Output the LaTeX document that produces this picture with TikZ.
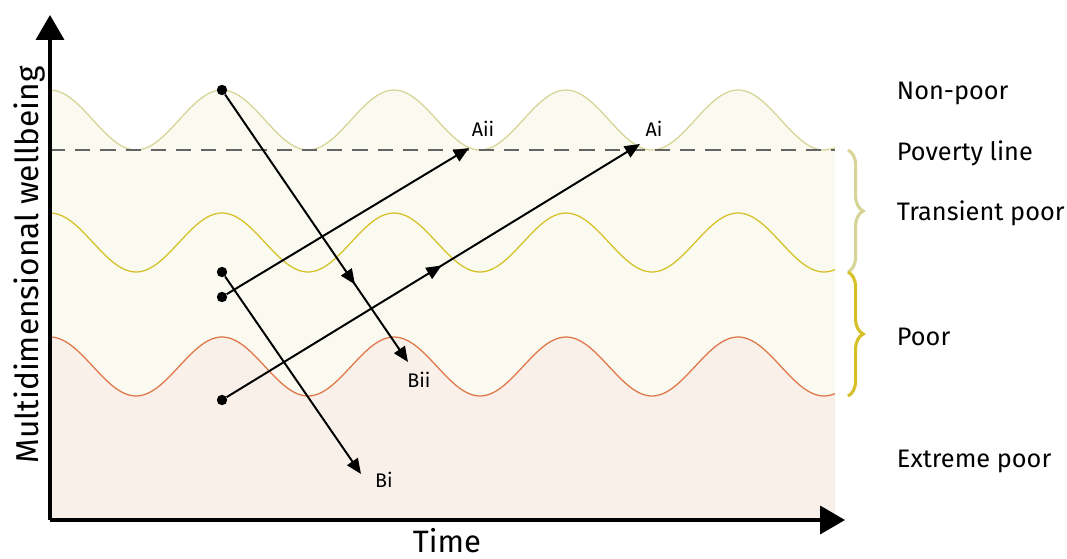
\documentclass[tikz,border=0pt]{standalone}
\usepackage{fontspec}
\setmainfont{Fira Sans}
\usepackage{tikz}
\usetikzlibrary{arrows.meta, decorations.pathreplacing, decorations.markings}
\definecolor{WBCream}{RGB}{251,250,240}
\definecolor{WBPink}{RGB}{250,240,234}
\definecolor{WBOlive}{RGB}{214,212,150}
\definecolor{WBGold}{RGB}{214,192,40}
\definecolor{WBRust}{RGB}{222,118,72}
\definecolor{WBGray}{RGB}{100,100,100}

\begin{document}
\begin{tikzpicture}[x=0.025cm, y=-0.025cm,
      axis/.style={line width=2.2pt, -{Triangle[length=0.62cm, width=0.7cm]}},
      wave/.style={line width=0.9pt},
      dot/.style={circle, fill=black, inner sep=0pt, minimum size=0.26cm},
      move/.style={line width=1.4pt, -{Triangle[length=0.38cm, width=0.32cm]}},
      midarrow/.style={postaction={decorate}, decoration={markings,
                   mark=at position #1 with {\arrow{Triangle[length=0.38cm, width=0.32cm]}}}},
      band/.style={font=\fontsize{18}{21}\selectfont, anchor=west},
      tag/.style={font=\fontsize{14}{16}\selectfont},
      brc/.style={line width=2.2pt, decorate,
                  decoration={brace, amplitude=0.38cm, raise=0pt}}
    ]
    \useasboundingbox (0,0) rectangle (1067,559);

    %--- Bands ---
    \fill[WBCream] plot[domain=50:835, samples=200]
          (\x, {120 - 30*cos(2.0930*(\x-50))}) -- (835,520) -- (50,520) -- cycle;
    \fill[WBPink] plot[domain=50:835, samples=200]
          (\x, {366.5 - 29.5*cos(2.0930*(\x-50))}) -- (835,520) -- (50,520) -- cycle;
    \draw[wave, WBOlive] plot[domain=50:835, samples=200]
          (\x, {120 - 30*cos(2.0930*(\x-50))});
    \draw[wave, WBGold] plot[domain=50:835, samples=200]
          (\x, {242.5 - 29.5*cos(2.0930*(\x-50))});
    \draw[wave, WBRust] plot[domain=50:835, samples=200]
          (\x, {366.5 - 29.5*cos(2.0930*(\x-50))});

    % Poverty line
    \coordinate (pl0) at (50,150);
    \coordinate (pl1) at (835,150);
    \draw[WBGray, line width=1.1pt, dash pattern=on 0.38cm off 0.25cm] (pl0) -- (pl1);

    %--- Axes ---
    \coordinate (o) at (50,520);
    \coordinate (ytop) at (50,15);
    \coordinate (xend) at (845,520);
    \draw[axis] (o) -- (ytop);
    \draw[axis] (o) -- (xend);
    \node[rotate=90, font=\fontsize{22.5}{26}\selectfont] (ylab) at (30,265)
          {Multidimensional wellbeing};
    \node[font=\fontsize{22}{26}\selectfont] (xlab) at (447,541) {Time};

    %--- Trajectories ---
    \node[dot] (s1) at (222,90) {};
    \node[dot] (s2) at (222,272) {};
    \node[dot] (s3) at (222,297) {};
    \node[dot] (s4) at (222,400) {};
    \coordinate (bii) at (408,362);
    \coordinate (bi)  at (361,474);
    \coordinate (aii) at (469,148);
    \coordinate (ai)  at (640,144);
    \draw[move, midarrow=0.71] (s1) -- (bii);
    \draw[move] (s2) -- (bi);
    \draw[move] (s3) -- (aii);
    \draw[move, midarrow=0.52] (s4) -- (ai);
    \node[tag] (taii) at (483,129) {Aii};
    \node[tag] (tai)  at (654,129) {Ai};
    \node[tag] (tbii) at (419,380) {Bii};
    \node[tag] (tbi)  at (384,480) {Bi};

    %--- Braces ---
    \coordinate (b0) at (848,150);
    \coordinate (b1) at (848,272);
    \coordinate (b2) at (848,396);
    \draw[brc, WBOlive] (b0) -- (b1);
    \draw[brc, WBGold] (b1) -- (b2);

    %--- Band labels ---
    \node[band] (nonpoor) at (892,93)  {Non-poor};
    \node[band] (povline) at (892,153) {Poverty line};
    \node[band] (transp)  at (892,213) {Transient poor};
    \node[band] (poor)    at (892,337) {Poor};
    \node[band] (extreme) at (892,461) {Extreme poor};
  \end{tikzpicture}
\end{document}
